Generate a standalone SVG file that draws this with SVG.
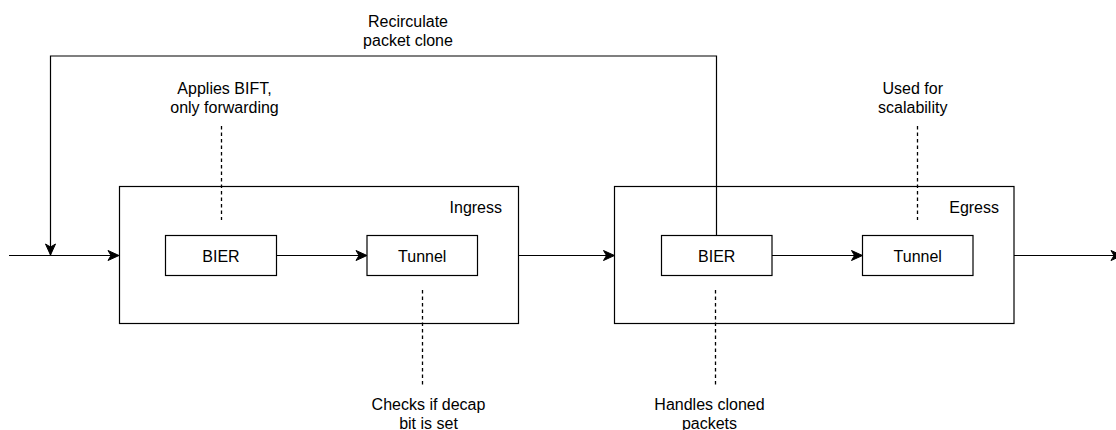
<svg xmlns="http://www.w3.org/2000/svg" width="1116" height="430" viewBox="0 0 1116 430">
  <style>
    .box { fill: #ffffff; stroke: #000000; stroke-width: 1.2; }
    .lbl { font-family: "Liberation Sans", Arial, Helvetica, sans-serif; font-size: 16px; fill: #000000; }
    .mid { text-anchor: middle; }
    .end { text-anchor: end; }
    .flow { fill: none; stroke: #000000; stroke-width: 1.2; marker-end: url(#arrow); }
    .note { fill: none; stroke: #000000; stroke-width: 1.3; stroke-dasharray: 3.5 3; }
  </style>
  <defs>
    <marker id="arrow" markerUnits="userSpaceOnUse" orient="auto" markerWidth="14" markerHeight="12" viewBox="-12 -6 14 12" refX="0" refY="0" overflow="visible">
      <path d="M0,0 L-11,-5 L-8,0 L-11,5 Z" fill="#000000" stroke="#000000" stroke-width="1" stroke-linejoin="miter"/>
    </marker>
  </defs>

  <rect width="1116" height="430" fill="#ffffff"/>

  <!-- pipeline stages -->
  <g id="ingress">
    <rect class="box" x="119.5" y="186.5" width="399" height="137"/>
    <text class="lbl end" x="502" y="213">Ingress</text>
  </g>
  <g id="egress">
    <rect class="box" x="614.5" y="186.5" width="399.5" height="137"/>
    <text class="lbl end" x="999" y="213">Egress</text>
  </g>

  <!-- blocks inside the stages -->
  <g id="ingress-bier">
    <rect class="box" x="165.5" y="235.5" width="111" height="40"/>
    <text class="lbl mid" x="221" y="262">BIER</text>
  </g>
  <g id="ingress-tunnel">
    <rect class="box" x="367" y="235.5" width="110.5" height="40"/>
    <text class="lbl mid" x="422.25" y="262">Tunnel</text>
  </g>
  <g id="egress-bier">
    <rect class="box" x="661.5" y="235.5" width="110.5" height="40"/>
    <text class="lbl mid" x="716.75" y="262">BIER</text>
  </g>
  <g id="egress-tunnel">
    <rect class="box" x="862.5" y="235.5" width="110.5" height="40"/>
    <text class="lbl mid" x="917.75" y="262">Tunnel</text>
  </g>

  <!-- annotations -->
  <g id="note-recirculate">
    <text class="lbl mid" x="408" y="26.5">Recirculate</text>
    <text class="lbl mid" x="408" y="45.5">packet clone</text>
  </g>
  <g id="note-bift">
    <text class="lbl mid" x="224.5" y="94">Applies BIFT,</text>
    <text class="lbl mid" x="224.5" y="113">only forwarding</text>
  </g>
  <g id="note-scalability">
    <text class="lbl mid" x="912.75" y="94">Used for</text>
    <text class="lbl mid" x="912.75" y="113">scalability</text>
  </g>
  <g id="note-decap">
    <text class="lbl mid" x="428.5" y="409.5">Checks if decap</text>
    <text class="lbl mid" x="428.5" y="428.5">bit is set</text>
  </g>
  <g id="note-cloned">
    <text class="lbl mid" x="709.5" y="409.5">Handles cloned</text>
    <text class="lbl mid" x="709.5" y="428.5">packets</text>
  </g>

  <!-- connectors -->
  <g id="connectors">
    <line class="flow" x1="9" y1="255.5" x2="119" y2="255.5"/>
    <line class="flow" x1="276.5" y1="255.5" x2="367" y2="255.5"/>
    <line class="flow" x1="518.5" y1="255.5" x2="614.5" y2="255.5"/>
    <line class="flow" x1="772" y1="255.5" x2="862.5" y2="255.5"/>
    <line class="flow" x1="1014" y1="255.5" x2="1122" y2="255.5"/>
    <path class="flow" d="M716.5,235.5 V56 H50.5 V255"/>
    <line class="note" x1="221.5" y1="126" x2="221.5" y2="220"/>
    <line class="note" x1="917.5" y1="126" x2="917.5" y2="220"/>
    <line class="note" x1="422.5" y1="290" x2="422.5" y2="385"/>
    <line class="note" x1="715.5" y1="290" x2="715.5" y2="385"/>
  </g>
</svg>
